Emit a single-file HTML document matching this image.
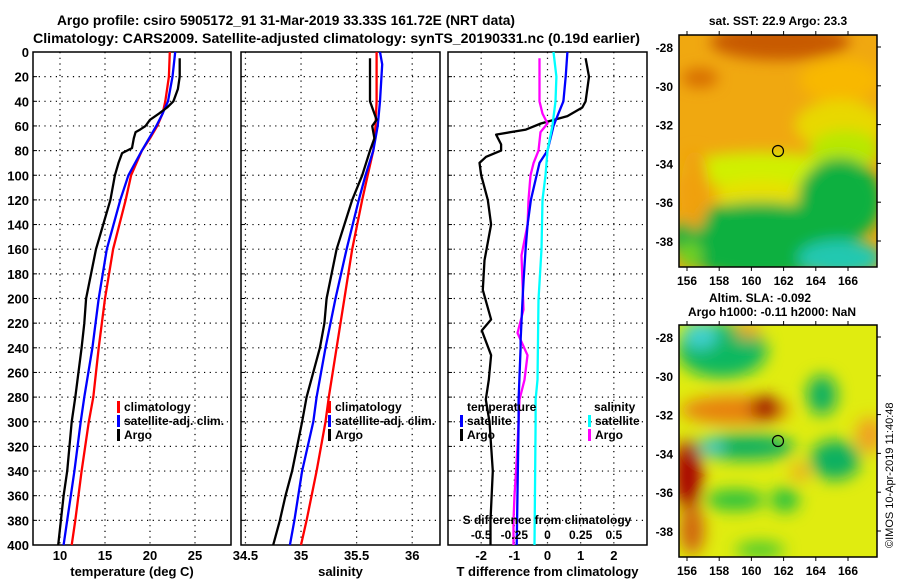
<!DOCTYPE html>
<html><head><meta charset="utf-8"><style>
body{margin:0;background:#fff;}
svg{display:block;font-family:"Liberation Sans",sans-serif;font-weight:bold;}
</style></head><body>
<svg id="c" width="900" height="580" viewBox="0 0 900 580" xmlns="http://www.w3.org/2000/svg">
<defs>
<filter id="bl" filterUnits="userSpaceOnUse" x="600" y="0" width="300" height="600"><feGaussianBlur stdDeviation="7"/></filter>
<filter id="bl2" filterUnits="userSpaceOnUse" x="600" y="250" width="300" height="350"><feGaussianBlur stdDeviation="8"/></filter>
<clipPath id="cm1"><rect x="679" y="35" width="198" height="232"/></clipPath>
<clipPath id="cm2"><rect x="679" y="325" width="198" height="232"/></clipPath>
</defs>
<text x="57" y="25" font-size="14" textLength="458" lengthAdjust="spacingAndGlyphs">Argo profile: csiro 5905172_91 31-Mar-2019 33.33S 161.72E (NRT data)</text>
<text x="33" y="43" font-size="14" textLength="607" lengthAdjust="spacingAndGlyphs">Climatology: CARS2009. Satellite-adjusted climatology: synTS_20190331.nc (0.19d earlier)</text>

<g>
<text x="778" y="25" font-size="12" text-anchor="middle">sat. SST: 22.9 Argo: 23.3</text>
<g clip-path="url(#cm1)">
<rect x="679" y="35" width="198" height="232" fill="#f0a810"/>
<g filter="url(#bl)">
<ellipse cx="780" cy="42" rx="70" ry="18" fill="#c85a00"/>
<ellipse cx="700" cy="78" rx="18" ry="10" fill="#d87000"/>
<ellipse cx="840" cy="80" rx="40" ry="22" fill="#f8b800"/>
<ellipse cx="840" cy="125" rx="45" ry="25" fill="#e8d800"/>
<ellipse cx="760" cy="170" rx="80" ry="18" fill="#d0f000"/>
<ellipse cx="845" cy="150" rx="35" ry="20" fill="#b8e800"/>
<ellipse cx="760" cy="195" rx="45" ry="15" fill="#e8e000"/>
<ellipse cx="760" cy="240" rx="90" ry="38" fill="#10b040"/>
<ellipse cx="840" cy="200" rx="42" ry="42" fill="#10b040"/>
<ellipse cx="840" cy="258" rx="42" ry="18" fill="#20c8b0"/>
<ellipse cx="690" cy="255" rx="12" ry="14" fill="#70d020"/>
<ellipse cx="695" cy="190" rx="14" ry="40" fill="#f0a010"/>
</g>
</g>
<rect x="679" y="35" width="198" height="232" fill="none" stroke="#000" stroke-width="1.5"/>
<circle cx="778" cy="151" r="5.5" fill="none" stroke="#000" stroke-width="1.2"/>
</g>

<g>
<text x="760" y="302" font-size="12" text-anchor="middle">Altim. SLA: -0.092</text>
<text x="772" y="316" font-size="12" text-anchor="middle">Argo h1000: -0.11 h2000: NaN</text>
<g clip-path="url(#cm2)">
<rect x="679" y="325" width="198" height="232" fill="#e0ec10"/>
<g filter="url(#bl2)">
<ellipse cx="722" cy="350" rx="45" ry="28" fill="#10b860"/>
<ellipse cx="700" cy="335" rx="18" ry="14" fill="#40d0d0"/>
<ellipse cx="748" cy="330" rx="12" ry="8" fill="#f0a020"/>
<ellipse cx="735" cy="410" rx="55" ry="14" fill="#e88010"/>
<ellipse cx="765" cy="408" rx="15" ry="12" fill="#a00000"/>
<ellipse cx="745" cy="447" rx="50" ry="13" fill="#10b060"/>
<ellipse cx="712" cy="447" rx="12" ry="9" fill="#40c8d0"/>
<ellipse cx="688" cy="475" rx="14" ry="35" fill="#a80000"/>
<ellipse cx="692" cy="530" rx="12" ry="25" fill="#d06010"/>
<ellipse cx="822" cy="395" rx="15" ry="20" fill="#10b060"/>
<ellipse cx="835" cy="460" rx="25" ry="20" fill="#10b060"/>
<ellipse cx="870" cy="435" rx="14" ry="18" fill="#f0a020"/>
<ellipse cx="800" cy="472" rx="9" ry="8" fill="#f0a020"/>
<ellipse cx="735" cy="500" rx="30" ry="10" fill="#20c040"/>
<ellipse cx="785" cy="500" rx="14" ry="12" fill="#20c040"/>
<ellipse cx="760" cy="550" rx="25" ry="8" fill="#40c830"/>
</g>
</g>
<rect x="679" y="325" width="198" height="232" fill="none" stroke="#000" stroke-width="1.5"/>
<circle cx="778" cy="441" r="5.5" fill="none" stroke="#000" stroke-width="1.2"/>
</g>
<text transform="translate(893,548) rotate(-90)" font-size="11" font-weight="normal">©IMOS 10-Apr-2019 11:40:48</text>
</svg>
<script>
// depth axis
var depthTicks=[0,20,40,60,80,100,120,140,160,180,200,220,240,260,280,300,320,340,360,380,400];
// temperature panel data
var tempTicks=[10,15,20,25];
var tClimDepth=[0,20,40,50,60,70,80,100,120,160,200,240,280,300,340,380,400];
var tClim=[22.2,22.1,21.7,21.4,20.8,20.0,19.1,17.9,17.3,15.9,15.0,14.3,13.7,13.2,12.4,11.7,11.3];
var tSatDepth=[0,20,40,50,60,80,100,120,160,200,240,280,300,340,380,400];
var tSat=[22.8,22.5,22.0,21.4,20.7,19.1,17.6,16.7,15.2,14.3,13.6,12.7,12.3,11.6,10.8,10.4];
var tArgoDepth=[5,20,30,40,45,50,55,60,63,65,70,78,82,90,100,120,160,200,220,240,280,300,340,360,400];
var tArgo=[23.3,23.3,23.1,22.6,21.9,21.0,20.0,19.5,18.9,18.4,18.2,18.0,16.9,16.5,16.1,15.6,14.0,12.9,12.7,12.4,11.7,11.3,10.8,10.4,9.8];
// salinity panel data
var salTicks=[34.5,35,35.5,36];
var sClimDepth=[0,40,60,80,100,120,160,200,240,280,300,340,380,400];
var sClim=[35.68,35.68,35.67,35.65,35.6,35.55,35.46,35.39,35.32,35.25,35.22,35.14,35.05,35.0];
var sSatDepth=[0,10,40,60,80,100,120,160,200,240,280,300,340,380,400];
var sSat=[35.71,35.73,35.71,35.69,35.65,35.58,35.52,35.41,35.31,35.22,35.14,35.11,35.01,34.94,34.9];
var sArgoDepth=[5,40,45,55,60,70,80,100,120,160,200,220,240,280,300,340,360,380,400];
var sArgo=[35.62,35.62,35.64,35.68,35.64,35.66,35.62,35.55,35.46,35.32,35.23,35.21,35.17,35.05,35.01,34.92,34.86,34.81,34.75];
// difference panel data
var dTTicks=[-2,-1,0,1,2];
var dSTicks=[-0.5,-0.25,0,0.25,0.5];
var dSTickLabels=["-0.5","-0.25","0","0.25","0.5"];
var dTArgoDepth=[5,20,30,40,45,52,58,63,67,75,80,85,90,100,110,120,140,169,193,217,226,246,266,282,300,340,380,400];
var dTArgo=[1.15,1.25,1.2,1.15,1.05,0.6,-0.2,-0.65,-1.55,-1.4,-1.4,-1.85,-2.05,-2.0,-1.9,-1.8,-1.7,-1.9,-1.95,-1.7,-1.98,-1.7,-1.77,-1.86,-1.75,-1.65,-1.72,-1.72];
var dTSatDepth=[0,20,40,50,60,70,80,90,100,120,140,160,185,200,234,240,282,300,400];
var dTSat=[0.6,0.55,0.48,0.33,0.18,0.09,0,-0.24,-0.33,-0.5,-0.6,-0.66,-0.72,-0.75,-0.81,-0.81,-0.87,-0.87,-0.93];
var dSSatDepth=[0,20,40,60,80,100,120,160,201,266,282,300,400];
var dSSat=[0.045,0.067,0.06,0.037,0,-0.015,-0.038,-0.045,-0.068,-0.075,-0.09,-0.09,-0.098];
var dSArgoDepth=[5,40,50,58,65,80,90,100,120,140,165,209,228,246,266,282,320,360,380,400];
var dSArgo=[-0.06,-0.06,-0.038,0,-0.053,-0.068,-0.105,-0.128,-0.143,-0.15,-0.196,-0.181,-0.226,-0.151,-0.173,-0.211,-0.226,-0.249,-0.256,-0.256];

var NS="http://www.w3.org/2000/svg";
var svg=document.getElementById('c');
var Y0=52,Y1=545,DMAX=400;
function yScale(d){return Y0+d/DMAX*(Y1-Y0);}
function mk(tag,attrs,parent){var e=document.createElementNS(NS,tag);for(var k in attrs)e.setAttribute(k,attrs[k]);(parent||svg).appendChild(e);return e;}

function panel(name,x0,x1,vmin,vmax,ticks,tickLabels,xlabel,showY){
  var g=mk('g',{});
  
  
  var xs=function(v){return x0+(v-vmin)/(vmax-vmin)*(x1-x0);};
  depthTicks.forEach(function(d){
    if(d>0&&d<DMAX){var l=mk('line',{x1:x0,x2:x1,y1:yScale(d),y2:yScale(d),stroke:'#000','stroke-width':1.2,'stroke-dasharray':'1.2,4.5'},g);
    
    }
    var tk=mk('line',{x1:x0,x2:x0+4,y1:yScale(d),y2:yScale(d),stroke:'#000'},g);
    
    
    if(showY){var t=mk('text',{x:x0-4,y:yScale(d)+5,'font-size':13,'text-anchor':'end'},g);t.textContent=d;
    
    }
  });
  ticks.forEach(function(v,i){
    var x=xs(v);
    var l=mk('line',{x1:x,x2:x,y1:Y0,y2:Y1,stroke:'#000','stroke-width':1.2,'stroke-dasharray':'1.2,4.5'},g);
    
    
    var t=mk('text',{x:x,y:Y1+15,'font-size':13,'text-anchor':'middle'},g);t.textContent=tickLabels?tickLabels[i]:v;
    
    
  });
  var r=mk('rect',{x:x0,y:Y0,width:x1-x0,height:Y1-Y0,fill:'none',stroke:'#000','stroke-width':1.5},g);
  
  
  var xl=mk('text',{x:(x0+x1)/2,y:576,'font-size':13,'text-anchor':'middle'},g);xl.textContent=xlabel;
  
  
  return {g:g,xs:xs};
}
function series(p,depths,vals,color,name,scale){
  var pts=depths.map(function(d,i){return p.xs(vals[i]*(scale||1)).toFixed(1)+','+yScale(d).toFixed(1);}).join(' ');
  var pl=mk('polyline',{points:pts,fill:'none',stroke:color,'stroke-width':2.3,'stroke-linejoin':'round'},p.g);
  
  
}
function legend(p,x,y,color,label,name){
  var r=mk('rect',{x:x,y:y-10,width:3,height:12,fill:color},p.g);
  
  
  var t=mk('text',{x:x+7,y:y,'font-size':12},p.g);t.textContent=label;
  
  
}

var p1=panel('temperature-panel',33,231,7,29,tempTicks,null,'temperature (deg C)',true);
series(p1,tClimDepth,tClim,'#ff0000','temp-climatology-line');
series(p1,tSatDepth,tSat,'#0000ff','temp-satellite-adj-line');
series(p1,tArgoDepth,tArgo,'#000000','temp-argo-line');
legend(p1,117,411,'#ff0000','climatology','legend-climatology');
legend(p1,117,425,'#0000ff','satellite-adj. clim.','legend-satellite-adj');
legend(p1,117,439,'#000000','Argo','legend-argo');

var p2=panel('salinity-panel',241,440,34.46,36.25,salTicks,null,'salinity',false);
series(p2,sClimDepth,sClim,'#ff0000','sal-climatology-line');
series(p2,sSatDepth,sSat,'#0000ff','sal-satellite-adj-line');
series(p2,sArgoDepth,sArgo,'#000000','sal-argo-line');
legend(p2,328,411,'#ff0000','climatology','legend-climatology');
legend(p2,328,425,'#0000ff','satellite-adj. clim.','legend-satellite-adj');
legend(p2,328,439,'#000000','Argo','legend-argo');

var p3=panel('difference-panel',448,647,-3,3,dTTicks,null,'T difference from climatology',false);
series(p3,dTArgoDepth,dTArgo,'#000000','dT-argo-line');
series(p3,dSArgoDepth,dSArgo,'#ff00ff','dS-argo-line',4);
series(p3,dTSatDepth,dTSat,'#0000ff','dT-satellite-line');
series(p3,dSSatDepth,dSSat,'#00ffff','dS-satellite-line',4);
var tt=mk('text',{x:467,y:411,'font-size':12},p3.g);tt.textContent='temperature';


var st=mk('text',{x:594,y:411,'font-size':12},p3.g);st.textContent='salinity';


legend(p3,460,425,'#0000ff','satellite','legend-t-satellite');
legend(p3,460,439,'#000000','Argo','legend-t-argo');
legend(p3,588,425,'#00ffff','satellite','legend-s-satellite');
legend(p3,588,439,'#ff00ff','Argo','legend-s-argo');
var sdt=mk('text',{x:547,y:524,'font-size':12,'text-anchor':'middle'},p3.g);sdt.textContent='S difference from climatology';


dSTicks.forEach(function(v,i){
  var x=p3.xs(v*4);
  var t=mk('text',{x:x,y:539,'font-size':12,'text-anchor':'middle'},p3.g);t.textContent=dSTickLabels[i];
  
  
});

// map axes
var lonTicks=[156,158,160,162,164,166];
var latTicks=[-28,-30,-32,-34,-36,-38];
function mapAxes(top,name,showLon){
  var g=mk('g',{});
  
  
  lonTicks.forEach(function(l){
    var x=687+(l-156)*16.1;
    mk('line',{x1:x,x2:x,y1:top,y2:top-4,stroke:'#000'},g);
    mk('line',{x1:x,x2:x,y1:top+232,y2:top+236,stroke:'#000'},g);
    if(showLon){var t=mk('text',{x:x,y:top+250,'font-size':12,'text-anchor':'middle'},g);t.textContent=l;
    
    }
  });
  latTicks.forEach(function(l){
    var y=top+12+(-28-l)*19.4;
    mk('line',{x1:877,x2:881,y1:y,y2:y,stroke:'#000'},g);
    var t=mk('text',{x:673,y:y+5,'font-size':12,'text-anchor':'end'},g);t.textContent=l;
    
    
  });
}
mapAxes(35,'sst-map-axes',true);
mapAxes(325,'sla-map-axes',true);
</script>
</body></html>
